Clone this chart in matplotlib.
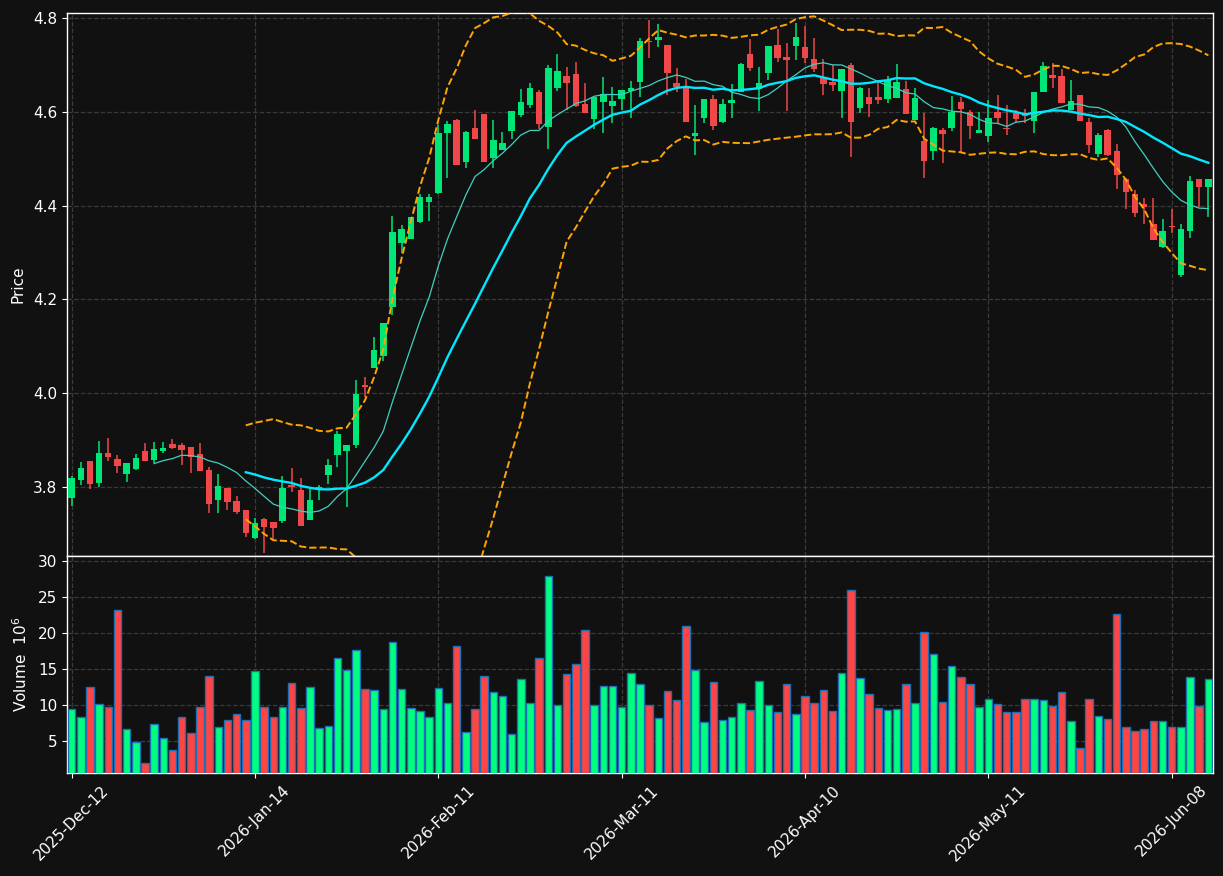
import matplotlib.pyplot as plt
import numpy as np
import pandas as pd

# daily OHLC (125 sessions)
opens = [3.777, 3.814, 3.855, 3.809, 3.873, 3.860, 3.828, 3.839, 3.877, 3.858,
         3.877, 3.892, 3.889, 3.885, 3.870, 3.836, 3.773, 3.798, 3.770, 3.751,
         3.692, 3.732, 3.725, 3.728, 3.805, 3.793, 3.730, 3.796, 3.826, 3.868,
         3.877, 3.890, 4.017, 4.054, 4.080, 4.183, 4.320, 4.329, 4.366, 4.408,
         4.428, 4.556, 4.583, 4.494, 4.566, 4.595, 4.502, 4.519, 4.560, 4.594,
         4.615, 4.642, 4.568, 4.651, 4.676, 4.681, 4.617, 4.585, 4.622, 4.613,
         4.627, 4.645, 4.664, 4.752, 4.754, 4.742, 4.661, 4.651, 4.548, 4.587,
         4.627, 4.579, 4.619, 4.643, 4.723, 4.648, 4.683, 4.742, 4.717, 4.741,
         4.738, 4.712, 4.673, 4.664, 4.645, 4.700, 4.609, 4.631, 4.632, 4.627,
         4.630, 4.648, 4.583, 4.538, 4.516, 4.561, 4.566, 4.621, 4.600, 4.556,
         4.549, 4.600, 4.566, 4.598, 4.595, 4.581, 4.643, 4.679, 4.676, 4.605,
         4.636, 4.578, 4.510, 4.561, 4.516, 4.458, 4.424, 4.403, 4.362, 4.311,
         4.357, 4.252, 4.345, 4.457, 4.440]
highs = [3.823, 3.853, 3.856, 3.898, 3.904, 3.868, 3.852, 3.870, 3.894, 3.896,
         3.896, 3.902, 3.894, 3.886, 3.894, 3.843, 3.828, 3.799, 3.780, 3.752,
         3.735, 3.733, 3.726, 3.823, 3.840, 3.819, 3.796, 3.804, 3.859, 3.920,
         3.890, 4.028, 4.035, 4.119, 4.150, 4.378, 4.359, 4.376, 4.424, 4.424,
         4.572, 4.581, 4.584, 4.560, 4.604, 4.596, 4.583, 4.557, 4.603, 4.649,
         4.661, 4.647, 4.700, 4.723, 4.696, 4.706, 4.661, 4.632, 4.674, 4.654,
         4.647, 4.666, 4.758, 4.797, 4.787, 4.743, 4.693, 4.671, 4.615, 4.628,
         4.636, 4.627, 4.659, 4.704, 4.755, 4.695, 4.741, 4.776, 4.746, 4.789,
         4.783, 4.757, 4.712, 4.701, 4.692, 4.705, 4.653, 4.652, 4.666, 4.676,
         4.703, 4.666, 4.651, 4.598, 4.567, 4.565, 4.634, 4.632, 4.604, 4.600,
         4.625, 4.636, 4.615, 4.604, 4.607, 4.643, 4.706, 4.705, 4.691, 4.667,
         4.637, 4.586, 4.556, 4.563, 4.531, 4.459, 4.433, 4.416, 4.417, 4.371,
         4.394, 4.360, 4.463, 4.458, 4.458]
lows = [3.760, 3.804, 3.796, 3.800, 3.856, 3.829, 3.810, 3.836, 3.855, 3.851,
        3.873, 3.881, 3.848, 3.831, 3.834, 3.745, 3.745, 3.751, 3.743, 3.693,
        3.690, 3.660, 3.690, 3.723, 3.790, 3.717, 3.729, 3.772, 3.806, 3.843,
        3.758, 3.883, 3.993, 4.053, 4.069, 4.167, 4.300, 4.328, 4.364, 4.368,
        4.425, 4.460, 4.486, 4.480, 4.542, 4.493, 4.480, 4.518, 4.543, 4.590,
        4.608, 4.564, 4.520, 4.644, 4.604, 4.610, 4.597, 4.563, 4.554, 4.576,
        4.604, 4.588, 4.631, 4.715, 4.739, 4.637, 4.643, 4.578, 4.509, 4.576,
        4.561, 4.577, 4.586, 4.642, 4.688, 4.602, 4.669, 4.706, 4.602, 4.710,
        4.705, 4.686, 4.637, 4.645, 4.588, 4.504, 4.598, 4.590, 4.616, 4.618,
        4.630, 4.595, 4.582, 4.460, 4.497, 4.490, 4.560, 4.515, 4.542, 4.555,
        4.536, 4.574, 4.551, 4.577, 4.576, 4.556, 4.642, 4.652, 4.618, 4.604,
        4.580, 4.512, 4.503, 4.507, 4.435, 4.394, 4.375, 4.361, 4.326, 4.310,
        4.341, 4.248, 4.332, 4.398, 4.375]
closes = [3.819, 3.841, 3.807, 3.873, 3.865, 3.845, 3.851, 3.862, 3.856, 3.881,
          3.883, 3.884, 3.879, 3.865, 3.835, 3.764, 3.802, 3.769, 3.747, 3.703,
          3.724, 3.715, 3.713, 3.798, 3.800, 3.718, 3.772, 3.800, 3.847, 3.913,
          3.890, 3.998, 4.014, 4.092, 4.149, 4.344, 4.350, 4.375, 4.418, 4.418,
          4.555, 4.574, 4.487, 4.557, 4.543, 4.494, 4.540, 4.534, 4.602, 4.621,
          4.652, 4.575, 4.693, 4.687, 4.662, 4.612, 4.598, 4.631, 4.639, 4.623,
          4.646, 4.651, 4.751, 4.750, 4.760, 4.683, 4.654, 4.579, 4.556, 4.627,
          4.570, 4.616, 4.625, 4.703, 4.694, 4.661, 4.740, 4.715, 4.711, 4.759,
          4.715, 4.692, 4.659, 4.658, 4.691, 4.579, 4.652, 4.617, 4.625, 4.668,
          4.664, 4.596, 4.630, 4.495, 4.566, 4.553, 4.600, 4.606, 4.570, 4.561,
          4.588, 4.587, 4.564, 4.585, 4.591, 4.642, 4.698, 4.673, 4.619, 4.624,
          4.581, 4.529, 4.551, 4.508, 4.466, 4.430, 4.384, 4.398, 4.327, 4.346,
          4.355, 4.350, 4.453, 4.439, 4.457]
# volume in millions
volumes = [9.44, 8.33, 12.5, 10.14, 9.72, 23.19, 6.67, 4.86, 1.94, 7.36,
           5.42, 3.75, 8.33, 6.11, 9.72, 14.03, 6.94, 7.92, 8.75, 7.92,
           14.72, 9.72, 8.33, 9.72, 13.06, 9.58, 12.5, 6.81, 7.08, 16.53,
           14.86, 17.64, 12.22, 12.08, 9.44, 18.75, 12.22, 9.58, 9.17, 8.33,
           12.36, 10.28, 18.19, 6.25, 9.44, 14.03, 11.81, 11.25, 5.97, 13.61,
           10.28, 16.53, 27.92, 10.0, 14.31, 15.69, 20.42, 10.0, 12.64, 12.64,
           9.72, 14.44, 12.92, 10.0, 8.19, 11.94, 10.69, 20.97, 14.86, 7.64,
           13.19, 7.92, 8.33, 10.28, 9.31, 13.33, 10.0, 9.03, 12.92, 8.75,
           11.25, 10.28, 12.08, 9.17, 14.44, 25.97, 13.75, 11.53, 9.58, 9.31,
           9.44, 12.92, 10.28, 20.14, 17.08, 10.42, 15.42, 13.89, 12.92, 9.72,
           10.83, 10.14, 9.03, 9.03, 10.83, 10.83, 10.69, 9.86, 11.81, 7.78,
           4.03, 10.83, 8.47, 8.06, 22.64, 6.94, 6.39, 6.67, 7.78, 7.78,
           6.94, 6.94, 13.89, 9.86, 13.61]
tick_labels = ['2025-Dec-12', '2026-Jan-14', '2026-Feb-11', '2026-Mar-11',
               '2026-Apr-10', '2026-May-11', '2026-Jun-08']

bg = '#111111'
up_c, down_c = '#00e676', '#f04848'
vup_c, vdown_c = '#00ff80', '#ff4444'

df = pd.DataFrame({'Open': opens, 'High': highs, 'Low': lows,
                   'Close': closes, 'Volume': volumes})
x = np.arange(len(df))
up = df['Close'] >= df['Open']

mav10 = df['Close'].rolling(10).mean()
mav20 = df['Close'].rolling(20).mean()
std20 = df['Close'].rolling(20).std(ddof=0)
bb_up = mav20 + 2 * std20
bb_lo = mav20 - 2 * std20

fig = plt.figure(figsize=(12.23, 8.76), dpi=100, facecolor=bg)
ax = fig.add_axes([0.0548, 0.3653, 0.937, 0.6199], facecolor=bg)
axv = fig.add_axes([0.0548, 0.1176, 0.937, 0.2477], facecolor=bg, sharex=ax)

# candles
colors = np.where(up, up_c, down_c)
body_lo = np.minimum(df['Open'], df['Close'])
body_h = np.maximum((df['Close'] - df['Open']).abs(), 0.0015)
ax.vlines(x, df['Low'], df['High'], colors=colors, linewidth=1.1, zorder=2)
ax.bar(x, body_h, bottom=body_lo, width=0.7, color=colors, zorder=3)

ax.plot(x, mav10, color='#40d0c0', lw=0.9, zorder=4)
ax.plot(x, mav20, color='#00e8ff', lw=1.7, zorder=4)
ax.plot(x, bb_up, color='#ffa500', lw=1.4, ls='--', zorder=4)
ax.plot(x, bb_lo, color='#ffa500', lw=1.4, ls='--', zorder=4)

# volume
vcolors = np.where(up, vup_c, vdown_c)
axv.bar(x, df['Volume'], width=0.82, color=vcolors, edgecolor='#1f6fb4',
        linewidth=1.0, zorder=3)

ax.set_xlim(-0.5, len(df) - 0.5)
ax.set_ylim(3.653, 4.811)
axv.set_ylim(0.556, 30.74)

ax.set_yticks([3.8, 4.0, 4.2, 4.4, 4.6, 4.8])
ax.set_yticklabels(['3.8', '4.0', '4.2', '4.4', '4.6', '4.8'])
axv.set_yticks([5, 10, 15, 20, 25, 30])
axv.set_xticks(np.arange(0, len(df), 20))
axv.set_xticklabels(tick_labels, rotation=45, ha='center')
plt.setp(ax.get_xticklabels(), visible=False)

for a in (ax, axv):
    a.grid(True, color='#3a3a3a', ls='--', lw=0.9)
    a.set_axisbelow(True)
    a.tick_params(colors='white', labelsize=11)
    for s in a.spines.values():
        s.set_color('white')
        s.set_linewidth(1.0)

ax.set_ylabel('Price', color='white', fontsize=11)
axv.set_ylabel('Volume  $10^{6}$', color='white', fontsize=11)
ax.yaxis.set_label_coords(-0.0366, 0.5)
axv.yaxis.set_label_coords(-0.0323, 0.5)

fig.savefig('out.png', dpi=100, facecolor=bg)
